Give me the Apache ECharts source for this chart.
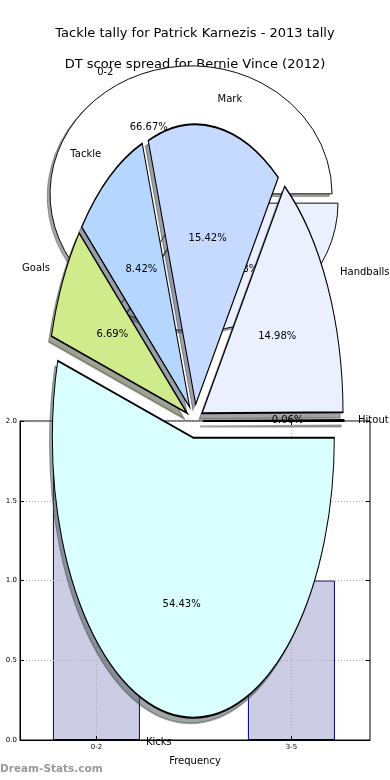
<!DOCTYPE html>
<html><head><meta charset="utf-8">
<script src="https://cdn.jsdelivr.net/npm/echarts@6/dist/echarts.min.js"></script>
<style>html,body{margin:0;padding:0;background:#fff}#c{width:390px;height:780px}</style>
</head><body><div id="c"></div><script>
const titleText = 'Tackle tally for Patrick Karnezis - 2013 tally';
const subtitleText = 'DT score spread for Bernie Vince (2012)';
const xAxisTitle = 'Frequency';
const watermark = 'Dream-Stats.com';
const barCategories = ['0-2', '3-5'];
const barValues = [2, 1];
const yTickValues = [0, 0.5, 1.0, 1.5, 2.0];
const pie1Labels = ['0-2', '3-5'];
const pie1Values = [66.67, 33.33];
const pie1Colors = ['#ffffff', '#ebf0ff'];
const pie2Labels = ['Hitout', 'Handballs', 'Mark', 'Tackle', 'Goals', 'Kicks'];
const pie2Values = [0.06, 14.98, 15.42, 8.42, 6.69, 54.43];
const pie2Colors = ['#f2e6ff', '#ebf0ff', '#c6d9ff', '#b5d6ff', '#d0eb8c', '#d9ffff'];

const FONT = 'DejaVu Sans';
const chart = echarts.init(document.getElementById('c'), null, {renderer: 'canvas'});

function shadeColor(hex) {
  const n = parseInt(hex.slice(1), 16);
  const r = Math.round(((n >> 16) & 255) * 0.3), g = Math.round(((n >> 8) & 255) * 0.3), b = Math.round((n & 255) * 0.3);
  return 'rgba(' + r + ',' + g + ',' + b + ',0.5)';
}

function makePie(labels, values, colors, geo, z) {
  const total = values.reduce((a, b) => a + b, 0);
  const starts = [];
  let acc = 0;
  values.forEach(v => { starts.push(acc); acc += v; });
  return {
    type: 'custom', coordinateSystem: 'none', z: z, silent: true, animation: false,
    data: values.map((v, i) => [v, i]),
    renderItem: function (params, api) {
      const i = params.dataIndex;
      const v = api.value(0);
      const a1 = starts[i] / total * 2 * Math.PI;
      const a2 = (starts[i] + v) / total * 2 * Math.PI;
      const m = (a1 + a2) / 2;
      const sy = geo.ry / geo.rx;
      const ax = geo.cx + geo.explode * geo.rx * Math.cos(m);
      const ay = geo.cy - geo.explode * geo.ry * Math.sin(m);
      const sector = (x, y, fill, stroke, z2) => ({
        type: 'sector',
        shape: {cx: x, cy: y, r: geo.rx, r0: 0, startAngle: -a2, endAngle: -a1, clockwise: true},
        originX: x, originY: y, scaleY: sy,
        style: {fill: fill, stroke: stroke, lineWidth: 1, strokeNoScale: true},
        z2: z2
      });
      const sc = shadeColor(colors[i]);
      const sdx = -0.02 * geo.rx, sdy = 0.02 * geo.ry;
      const c = Math.cos(m), s = Math.sin(m);
      return {
        type: 'group',
        children: [
          sector(ax + sdx, ay + sdy, sc, sc, 0),
          sector(ax, ay, colors[i], '#000', 1),
          {type: 'text', x: ax + 0.6 * geo.rx * c, y: ay - 0.6 * geo.ry * s, z2: 2,
           style: {text: v.toFixed(2) + '%', fill: '#000', font: '10px "' + FONT + '"', align: 'center', verticalAlign: 'middle'}},
          {type: 'text', x: ax + 1.1 * geo.rx * c, y: ay - 1.1 * geo.ry * s, z2: 2,
           style: {text: labels[i], fill: '#000', font: '10px "' + FONT + '"', align: c > 0 ? 'left' : 'right', verticalAlign: 'middle'}}
        ]
      };
    }
  };
}

const gridLine = {show: true, lineStyle: {color: '#aaa', type: [1, 2], width: 1}};

const option = {
  backgroundColor: '#fff',
  animation: false,
  textStyle: {fontFamily: FONT},
  title: [
    {text: titleText, left: 'center', top: 22, textStyle: {fontFamily: FONT, fontSize: 13, fontWeight: 'normal', color: '#000'}},
    {text: subtitleText, left: 'center', top: 53, textStyle: {fontFamily: FONT, fontSize: 13, fontWeight: 'normal', color: '#000'}}
  ],
  grid: {left: 20, right: 20, top: 421, bottom: 40, show: true, borderColor: '#000', borderWidth: 1, backgroundColor: 'transparent', z: 3},
  xAxis: [{
    type: 'value', min: -0.392, max: 1.403, z: 3,
    name: xAxisTitle, nameLocation: 'middle', nameGap: 16,
    nameTextStyle: {fontFamily: FONT, fontSize: 10, color: '#000'},
    axisLine: {show: true, onZero: false, lineStyle: {color: '#000'}},
    axisTick: {show: true, inside: true, length: 4, customValues: [0, 1], lineStyle: {color: '#000'}},
    axisLabel: {show: true, customValues: [0, 1], fontSize: 7, color: '#000', margin: 4,
      formatter: v => barCategories[Math.round(v)]},
    splitLine: gridLine
  }, {
    type: 'value', min: -0.392, max: 1.403, position: 'top', z: 3,
    axisLine: {show: false, onZero: false},
    axisTick: {show: true, inside: true, length: 4, customValues: [0, 1], lineStyle: {color: '#000'}},
    axisLabel: {show: false}, splitLine: {show: false}
  }],
  yAxis: [{
    type: 'value', min: 0, max: 2, interval: 0.5, z: 3,
    axisLine: {show: true, onZero: false, lineStyle: {color: '#000'}},
    axisTick: {show: true, inside: true, length: 4, lineStyle: {color: '#000'}},
    axisLabel: {fontSize: 7, color: '#000', margin: 3, formatter: v => v.toFixed(1)},
    splitLine: gridLine
  }, {
    type: 'value', min: 0, max: 2, interval: 0.5, position: 'right', z: 3,
    axisLine: {show: false, onZero: false},
    axisTick: {show: true, inside: true, length: 4, lineStyle: {color: '#000'}},
    axisLabel: {show: false}, splitLine: {show: false}
  }],
  graphic: [{type: 'text', left: 0, top: 764, z: 50,
    style: {text: watermark, fill: '#9a9a9a', font: 'bold 10.5px "' + FONT + '"'}}],
  series: [
    {type: 'bar', xAxisIndex: 0, yAxisIndex: 0, z: 2, barWidth: 87,
     data: barValues.map((v, i) => [i, v]),
     itemStyle: {color: '#ccccE5', borderColor: '#000080', borderWidth: 1}},
    makePie(pie1Labels, pie1Values, pie1Colors, {cx: 194, cy: 198.5, rx: 141, ry: 128, explode: 0.042}, 10),
    makePie(pie2Labels, pie2Values, pie2Colors, {cx: 194.5, cy: 421, rx: 141, ry: 280, explode: 0.06}, 20)
  ]
};
chart.setOption(option);
</script></body></html>
